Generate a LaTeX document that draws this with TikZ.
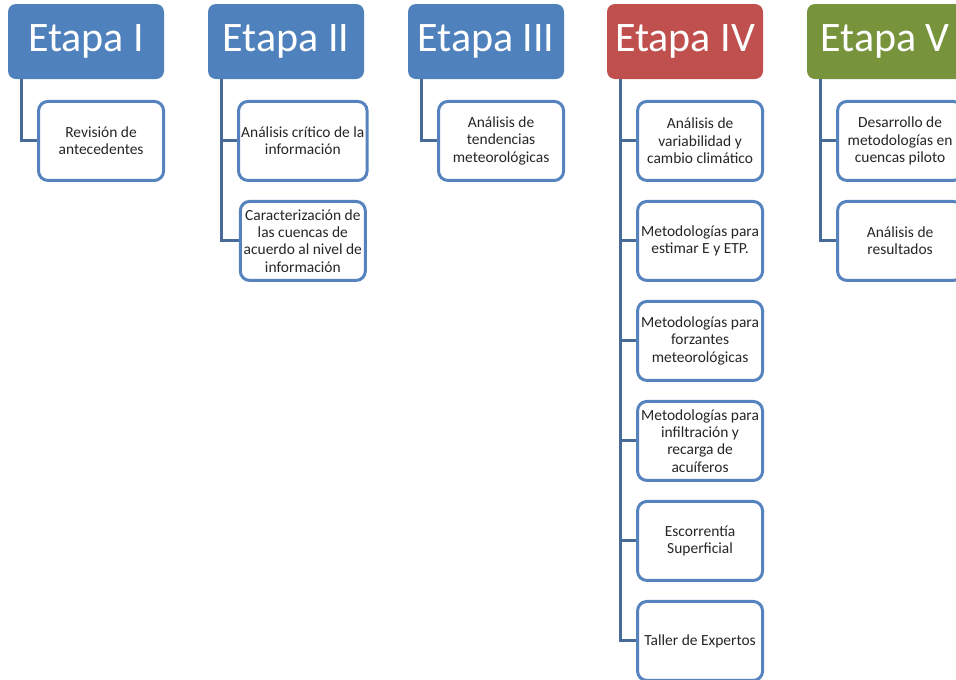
\documentclass[tikz,border=0pt]{standalone}
\usepackage{fontspec}
\setmainfont{Carlito}
\usetikzlibrary{positioning,calc}

\definecolor{etapablue}{RGB}{79,129,189}
\definecolor{etapared}{RGB}{192,80,77}
\definecolor{etapagreen}{RGB}{119,147,60}
\definecolor{boxline}{RGB}{86,131,190}
\definecolor{linkblue}{RGB}{72,106,152}

\begin{document}
\begin{tikzpicture}[
  x=0.75pt, y=-0.75pt,
  etapa/.style={rounded corners=6pt, minimum width=117pt, minimum height=56.25pt,
                inner sep=0pt, text=white, font=\fontsize{31.5}{36}\selectfont},
  tarea/.style={draw=boxline, line width=2.25pt, fill=white, rounded corners=7pt,
                minimum width=93.75pt, minimum height=59.25pt, inner sep=2pt,
                align=center, text=black!85, font=\fontsize{11.6}{13}\selectfont},
  link/.style={draw=linkblue, line width=2.25pt}
]
\useasboundingbox (0,0) rectangle (956,679);
\clip (0,0) rectangle (956,679);

% Headers
\node[etapa, fill=etapablue]  (h1) at (86,41.5)  {Etapa I};
\node[etapa, fill=etapablue]  (h2) at (286,41.5) {Etapa II};
\node[etapa, fill=etapablue]  (h3) at (486,41.5) {Etapa III};
\node[etapa, fill=etapared]   (h4) at (685,41.5) {Etapa IV};
\node[etapa, fill=etapagreen] (h5) at (885,41.5) {Etapa V};

% Etapa I
\node[tarea, below right=15.5pt and 22pt of h1.south west] (c11) {Revisión de\\antecedentes};

% Etapa II
\node[tarea, below right=15.5pt and 22pt of h2.south west] (c21) {Análisis crítico de la\\información};
\node[tarea, below=13.5pt of c21] (c22) {Caracterización de\\las cuencas de\\acuerdo al nivel de\\información};

% Etapa III
\node[tarea, below right=15.5pt and 22pt of h3.south west] (c31) {Análisis de\\tendencias\\meteorológicas};

% Etapa IV
\node[tarea, below right=15.5pt and 22pt of h4.south west] (c41) {Análisis de\\variabilidad y\\cambio climático};
\node[tarea, below=13.5pt of c41] (c42) {Metodologías para\\estimar E y ETP.};
\node[tarea, below=13.5pt of c42] (c43) {Metodologías para\\forzantes\\meteorológicas};
\node[tarea, below=13.5pt of c43] (c44) {Metodologías para\\infiltración y\\recarga de\\acuíferos};
\node[tarea, below=13.5pt of c44] (c45) {Escorrentía\\Superficial};
\node[tarea, below=13.5pt of c45] (c46) {Taller de Expertos};

% Etapa V
\node[tarea, below right=15.5pt and 22pt of h5.south west] (c51) {Desarrollo de\\metodologías en\\cuencas piloto};
\node[tarea, below=13.5pt of c51] (c52) {Análisis de\\resultados};

% Connectors
\draw[link] ($(h1.south west)+(14,0)$) |- (c11.west);
\draw[link] ($(h2.south west)+(14,0)$) |- (c21.west);
\draw[link] ($(h2.south west)+(14,0)$) |- (c22.west);
\draw[link] ($(h3.south west)+(14,0)$) |- (c31.west);
\draw[link] ($(h4.south west)+(14,0)$) |- (c41.west);
\draw[link] ($(h4.south west)+(14,0)$) |- (c42.west);
\draw[link] ($(h4.south west)+(14,0)$) |- (c43.west);
\draw[link] ($(h4.south west)+(14,0)$) |- (c44.west);
\draw[link] ($(h4.south west)+(14,0)$) |- (c45.west);
\draw[link] ($(h4.south west)+(14,0)$) |- (c46.west);
\draw[link] ($(h5.south west)+(14,0)$) |- (c51.west);
\draw[link] ($(h5.south west)+(14,0)$) |- (c52.west);

\end{tikzpicture}
\end{document}
